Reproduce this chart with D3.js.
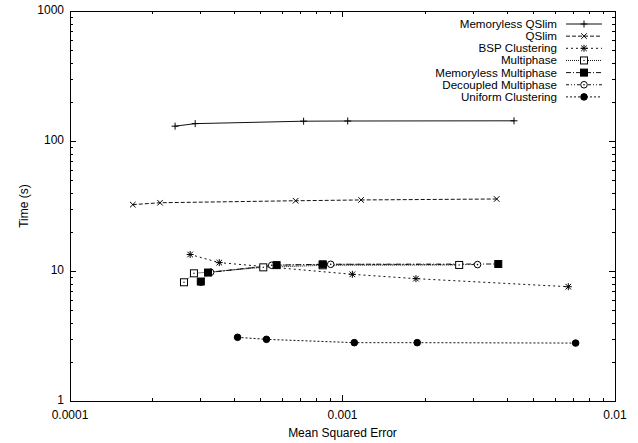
<!DOCTYPE html>
<html><head><meta charset="utf-8">
<script src="https://cdn.jsdelivr.net/npm/d3@7"></script>
<style>body{margin:0;background:#fff}svg{display:block}text{font-family:"Liberation Sans",Arial,sans-serif;fill:#000}</style>
</head><body>
<script>
const seriesNames = ["Memoryless QSlim","QSlim","BSP Clustering","Multiphase","Memoryless Multiphase","Decoupled Multiphase","Uniform Clustering"];
const memQSlimX = [2.43e-4, 2.88e-4, 7.2e-4, 1.045e-3, 4.26e-3];
const memQSlimY = [130, 136, 142, 142.5, 143];
const qslimX = [1.70e-4, 2.14e-4, 6.73e-4, 1.17e-3, 3.68e-3];
const qslimY = [32.4, 33.5, 34.7, 35.2, 35.8];
const bspX = [2.76e-4, 3.53e-4, 1.087e-3, 1.86e-3, 6.74e-3];
const bspY = [13.4, 11.6, 9.43, 8.73, 7.57];
const multiX = [2.62e-4, 2.85e-4, 5.12e-4, 8.46e-4, 2.68e-3];
const multiY = [8.19, 9.60, 10.67, 11.06, 11.13];
const memMultiX = [3.02e-4, 3.21e-4, 5.73e-4, 8.46e-4, 3.73e-3];
const memMultiY = [8.30, 9.73, 11.1, 11.26, 11.32];
const decMultiX = [3.02e-4, 3.28e-4, 5.50e-4, 9.05e-4, 3.13e-3];
const decMultiY = [8.2, 9.77, 11.06, 11.26, 11.2];
const uniformX = [4.12e-4, 5.26e-4, 1.105e-3, 1.88e-3, 7.17e-3];
const uniformY = [3.09, 2.98, 2.81, 2.81, 2.79];
const xTickLabels = ["0.0001","0.001","0.01"];
const yTickLabels = ["1","10","100","1000"];
const xTitle = "Mean Squared Error";
const yTitle = "Time (s)";

const seriesX = [memQSlimX,qslimX,bspX,multiX,memMultiX,decMultiX,uniformX];
const seriesY = [memQSlimY,qslimY,bspY,multiY,memMultiY,decMultiY,uniformY];
const dashes = [null,"4,2","2,3","1,1","5,2,1,2","3,2,1,2,1,2","2,2"];
const markers = ["plus","cross","star","boxdot","boxfill","circdot","circfill"];
const markerOrder = [0,1,2,3,5,4,6];

const W=638,H=443, L=70, R=615, T=11, B=401;
const svg = d3.select("body").append("svg").attr("width",W).attr("height",H);
const x = d3.scaleLog().domain([1e-4,1e-2]).range([L,R]);
const y = d3.scaleLog().domain([1,1000]).range([B,T]);

// ticks
const g = svg.append("g").attr("stroke","#000").attr("stroke-width",1).attr("shape-rendering","crispEdges");
x.ticks().forEach(v=>{
  const major = Math.abs(Math.log10(v)-Math.round(Math.log10(v)))<1e-9;
  const len = major?6:3; const px=Math.round(x(v))+0.5;
  g.append("line").attr("x1",px).attr("x2",px).attr("y1",B).attr("y2",B-len);
  g.append("line").attr("x1",px).attr("x2",px).attr("y1",T).attr("y2",T+len);
});
y.ticks().forEach(v=>{
  const major = Math.abs(Math.log10(v)-Math.round(Math.log10(v)))<1e-9;
  const len = major?6:3; const py=Math.round(y(v))+0.5;
  g.append("line").attr("x1",L).attr("x2",L+len).attr("y1",py).attr("y2",py);
  g.append("line").attr("x1",R).attr("x2",R-len).attr("y1",py).attr("y2",py);
});
svg.append("rect").attr("x",L+0.5).attr("y",T+0.5).attr("width",R-L).attr("height",B-T)
  .attr("fill","none").attr("stroke","#000").attr("stroke-width",1.2).attr("shape-rendering","crispEdges");

// tick labels
[1e-4,1e-3,1e-2].forEach((v,i)=>{
  svg.append("text").attr("x",x(v)).attr("y",B+18).attr("text-anchor","middle").attr("font-size",12).text(xTickLabels[i]);
});
[1,10,100,1000].forEach((v,i)=>{
  svg.append("text").attr("x",L-6).attr("y",y(v)+3).attr("text-anchor","end").attr("font-size",12).text(yTickLabels[i]);
});
svg.append("text").attr("x",(L+R)/2).attr("y",437).attr("text-anchor","middle").attr("font-size",12).text(xTitle);
svg.append("text").attr("transform",`translate(28,${(T+B)/2}) rotate(-90)`).attr("text-anchor","middle").attr("font-size",12).text(yTitle);

function drawMarker(sel, type, cx, cy){
  const s=3.5;
  const m = sel.append("g").attr("transform",`translate(${cx},${cy})`).attr("stroke","#000").attr("stroke-width",1);
  if(type==="plus"||type==="star"){
    m.append("path").attr("d",`M${-s},0H${s}M0,${-s}V${s}`).attr("fill","none");
  }
  if(type==="cross"||type==="star"){
    const c=2.8;
    m.append("path").attr("d",`M${-c},${-c}L${c},${c}M${-c},${c}L${c},${-c}`).attr("fill","none");
  }
  if(type==="boxdot"){
    m.append("rect").attr("x",-3.5).attr("y",-3.5).attr("width",7).attr("height",7).attr("fill","#fff");
    m.append("rect").attr("x",-0.6).attr("y",-0.6).attr("width",1.2).attr("height",1.2).attr("fill","#000").attr("stroke","none");
  }
  if(type==="boxfill"){
    m.append("rect").attr("x",-3.5).attr("y",-3.5).attr("width",7).attr("height",7).attr("fill","#000");
  }
  if(type==="circdot"){
    m.append("circle").attr("r",3.3).attr("fill","#fff");
    m.append("circle").attr("r",0.8).attr("fill","#000").attr("stroke","none");
  }
  if(type==="circfill"){
    m.append("circle").attr("r",3.3).attr("fill","#000");
  }
}

const line = d3.line().x(d=>x(d[0])).y(d=>y(d[1]));
const dataAll = seriesNames.map((n,i)=>seriesX[i].map((v,j)=>[v,seriesY[i][j]]));
dataAll.forEach((data,i)=>{
  svg.append("path").datum(data).attr("d",line).attr("fill","none").attr("stroke","#111")
    .attr("stroke-width",1).attr("stroke-dasharray",dashes[i]);
});
markerOrder.forEach(i=>{
  const mg = svg.append("g");
  dataAll[i].forEach(d=>drawMarker(mg, markers[i], x(d[0]), y(d[1])));
});
seriesNames.forEach((name,i)=>{
  const ly = 24 + i*12.15;
  svg.append("text").attr("x",557).attr("y",ly+4).attr("text-anchor","end").attr("font-size",11.6).text(name);
  svg.append("line").attr("x1",566).attr("x2",602).attr("y1",ly).attr("y2",ly).attr("stroke","#111")
    .attr("stroke-width",1).attr("stroke-dasharray",dashes[i]);
  drawMarker(svg, markers[i], 584, ly);
});
</script>
</body></html>
